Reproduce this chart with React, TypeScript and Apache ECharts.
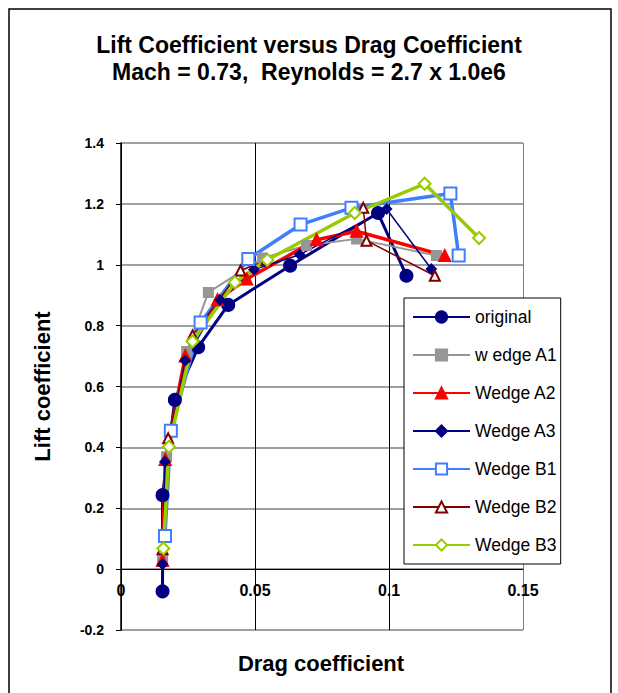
import React, { useEffect, useRef } from 'react';
import * as echarts from 'echarts';

// Series names (legend)
const seriesNames = ['original', 'w edge A1', 'Wedge A2', 'Wedge A3', 'Wedge B1', 'Wedge B2', 'Wedge B3'];

// Drag coefficient (x) and lift coefficient (y) per series
const originalCd = [0.0155, 0.0155, 0.0201, 0.0288, 0.0400, 0.0631, 0.0959, 0.1065];
const originalCl = [-0.073, 0.243, 0.556, 0.729, 0.868, 0.997, 1.170, 0.964];

const wedgeA1Cd = [0.0155, 0.0170, 0.0245, 0.0326, 0.0528, 0.0692, 0.0879, 0.1177];
const wedgeA1Cl = [0.035, 0.369, 0.715, 0.909, 1.022, 1.063, 1.085, 1.030];

const wedgeA2Cd = [0.0155, 0.0165, 0.0240, 0.0360, 0.0469, 0.0730, 0.0879, 0.1208];
const wedgeA2Cl = [0.028, 0.360, 0.700, 0.885, 0.953, 1.082, 1.110, 1.030];

const wedgeA3Cd = [0.0155, 0.0164, 0.0239, 0.0369, 0.0496, 0.0667, 0.0991, 0.1158];
const wedgeA3Cl = [0.016, 0.353, 0.685, 0.885, 0.984, 1.033, 1.183, 0.986];

const wedgeB1Cd = [0.0164, 0.0186, 0.0297, 0.0475, 0.0670, 0.0860, 0.1229, 0.1260];
const wedgeB1Cl = [0.109, 0.455, 0.810, 1.019, 1.132, 1.187, 1.234, 1.030];

const wedgeB2Cd = [0.0155, 0.0176, 0.0267, 0.0446, 0.0543, 0.0904, 0.0916, 0.1171];
const wedgeB2Cl = [0.065, 0.430, 0.768, 0.981, 1.016, 1.187, 1.079, 0.964];

const wedgeB3Cd = [0.0158, 0.0179, 0.0267, 0.0425, 0.0546, 0.0872, 0.1133, 0.1336];
const wedgeB3Cl = [0.068, 0.402, 0.748, 0.942, 1.016, 1.170, 1.266, 1.088];

const xAxisTitle = 'Drag coefficient';
const yAxisTitle = 'Lift coefficient';

const FONT = "'Liberation Sans', Arial, sans-serif";

const pairs = (xs: number[], ys: number[]) => xs.map((x, i) => [x, ys[i]]);

export default function App() {
  const ref = useRef<HTMLDivElement>(null);
  useEffect(() => {
    document.body.style.margin = '0';
    if (!ref.current) return;
    const chart = echarts.init(ref.current, undefined, { renderer: 'svg' });

    const styles = [
      { color: '#000080', width: 3, symbol: 'circle', size: 12 },
      { color: '#969696', width: 2, symbol: 'rect', size: 9 },
      { color: '#ff0000', width: 3.5, symbol: 'triangle', size: 11 },
      { color: '#000080', width: 1.5, symbol: 'diamond', size: 9 },
      { color: '#3f7fff', width: 3.5, symbol: 'emptyRect', size: 12 },
      { color: '#800000', width: 1.5, symbol: 'emptyTriangle', size: 10 },
      { color: '#99cc00', width: 3.5, symbol: 'emptyDiamond', size: 12 },
    ];
    const datasets = [
      pairs(originalCd, originalCl),
      pairs(wedgeA1Cd, wedgeA1Cl),
      pairs(wedgeA2Cd, wedgeA2Cl),
      pairs(wedgeA3Cd, wedgeA3Cl),
      pairs(wedgeB1Cd, wedgeB1Cl),
      pairs(wedgeB2Cd, wedgeB2Cl),
      pairs(wedgeB3Cd, wedgeB3Cl),
    ];

    chart.setOption({
      animation: false,
      backgroundColor: '#ffffff',
      title: {
        text: 'Lift Coefficient versus Drag Coefficient\nMach = 0.73,  Reynolds = 2.7 x 1.0e6',
        left: 'center',
        top: 31,
        padding: 0,
        textStyle: { fontFamily: FONT, fontSize: 23, fontWeight: 'bold', color: '#000', lineHeight: 27 },
      },
      graphic: [
        {
          type: 'rect',
          shape: { x: 9, y: 9, width: 602, height: 700 },
          style: { fill: 'none', stroke: '#000', lineWidth: 1.5 },
          silent: true,
          z: -10,
        },
        {
          type: 'text',
          x: 321,
          y: 663,
          silent: true,
          style: {
            text: xAxisTitle,
            fontFamily: FONT,
            fontSize: 22,
            fontWeight: 'bold',
            fill: '#000',
            align: 'center',
            verticalAlign: 'middle',
          },
        },
      ],
      grid: { left: 121, right: 95, top: 143, bottom: 63, containLabel: false, outerBoundsMode: 'none' },
      legend: {
        orient: 'vertical',
        left: 404,
        top: 298,
        padding: [9, 3, 9, 8],
        itemWidth: 57,
        itemHeight: 14,
        itemGap: 18,
        backgroundColor: '#ffffff',
        borderColor: '#000',
        borderWidth: 1,
        borderRadius: 0,
        textStyle: { fontFamily: FONT, fontSize: 17.5, color: '#000', lineHeight: 20 },
        data: seriesNames,
      },
      xAxis: {
        type: 'value',
        min: 0,
        max: 0.15,
        interval: 0.05,
        offset: -61,
        axisLine: { show: true, onZero: false, lineStyle: { color: '#000', width: 1 } },
        axisTick: { show: false },
        axisLabel: {
          fontFamily: FONT,
          fontSize: 16,
          fontWeight: 'bold',
          color: '#000',
          margin: 13,
          formatter: (v: number) => String(Math.round(v * 1000) / 1000),
        },
        splitLine: { show: true, lineStyle: { color: ['#000000', '#000000', '#000000', '#808080'], width: 1 } },
      },
      yAxis: {
        type: 'value',
        min: -0.2,
        max: 1.4,
        interval: 0.2,
        name: yAxisTitle,
        nameLocation: 'middle',
        nameGap: 68,
        nameTextStyle: { fontFamily: FONT, fontSize: 22, fontWeight: 'bold', color: '#000' },
        axisLine: { show: true, onZero: false, lineStyle: { color: '#000', width: 1.5 } },
        axisTick: { show: true, inside: false, length: 5, lineStyle: { color: '#000' } },
        axisLabel: {
          fontFamily: FONT,
          fontSize: 14,
          fontWeight: 'bold',
          color: '#000',
          margin: 17,
          formatter: (v: number) => String(Math.round(v * 100) / 100),
        },
        splitLine: { show: true, lineStyle: { color: '#808080', width: 1.5 } },
      },
      series: datasets.map((d, i) => ({
        name: seriesNames[i],
        type: 'line',
        data: d,
        symbol: styles[i].symbol,
        symbolSize: styles[i].size,
        showAllSymbol: true,
        lineStyle: { color: styles[i].color, width: styles[i].width },
        itemStyle: { color: styles[i].color, borderColor: styles[i].color, borderWidth: 2 },
        emphasis: { disabled: true },
      })),
    });
    return () => chart.dispose();
  }, []);
  return <div ref={ref} style={{ width: 618, height: 693 }} />;
}
